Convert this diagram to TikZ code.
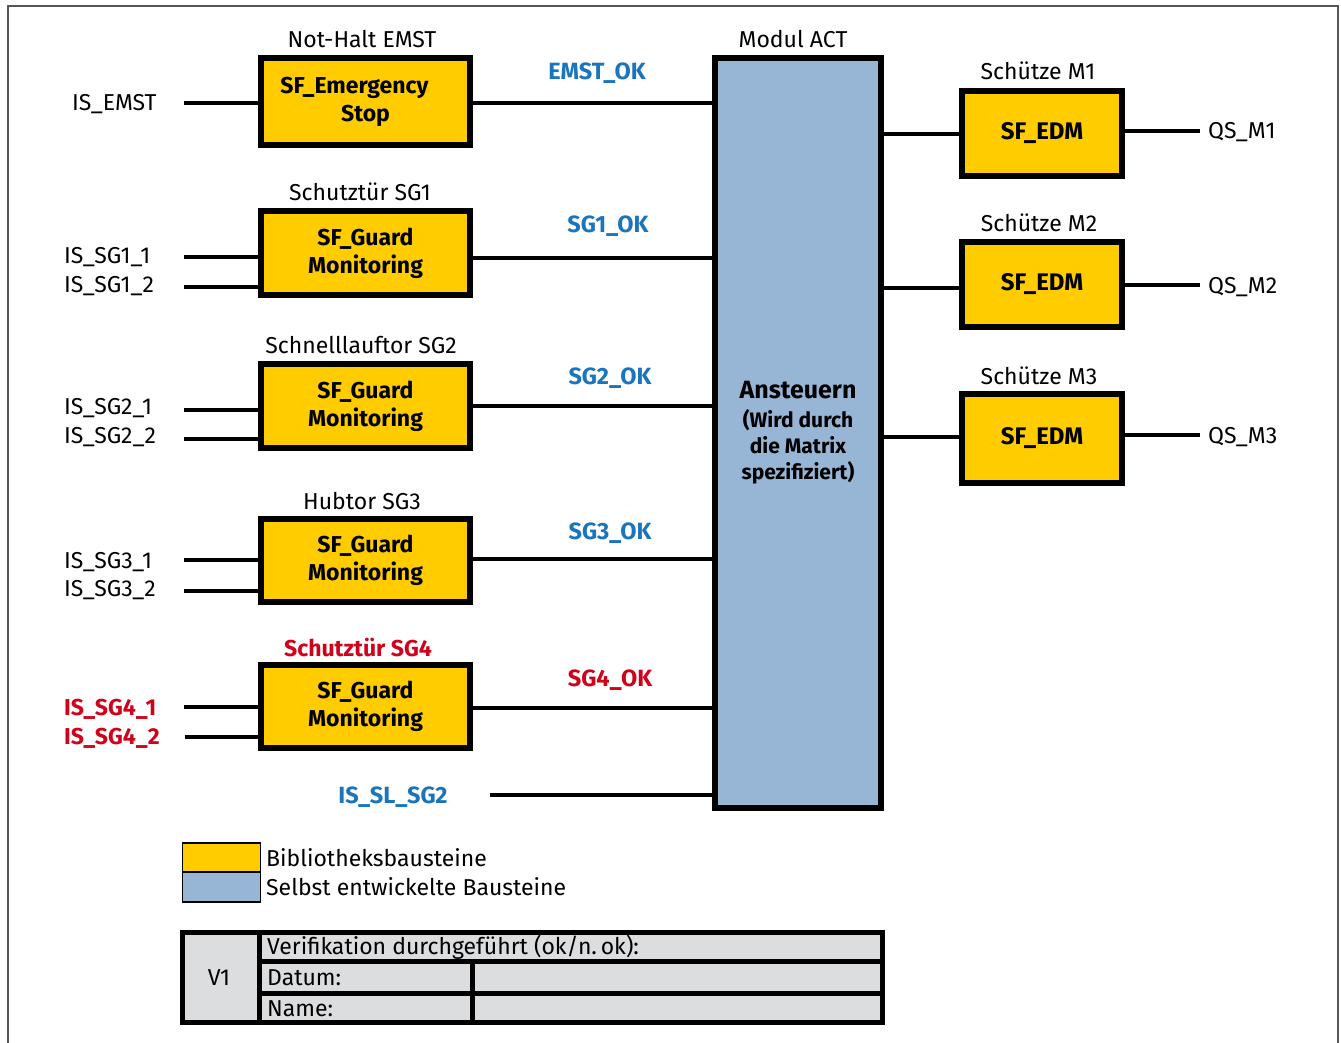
\documentclass[tikz,border=0pt]{standalone}
\usepackage{fontspec}
\setmainfont{Fira Sans}
\definecolor{libyellow}{HTML}{FFCC00}
\definecolor{ownblue}{HTML}{97B5D5}
\definecolor{sigblue}{HTML}{1A75BC}
\definecolor{sigred}{HTML}{D0021B}
\definecolor{cellgray}{HTML}{DCDDDF}
\definecolor{framegray}{HTML}{555555}

\begin{document}
\begin{tikzpicture}[x=1pt,y=-1pt,
  fb/.style={draw=black, line width=6pt, fill=libyellow, minimum width=209pt,
    minimum height=84pt, inner sep=0pt, align=center,
    font=\fontsize{23}{28}\selectfont\bfseries},
  edm/.style={fb, minimum width=160pt, minimum height=85pt,
    font=\fontsize{24}{28}\selectfont\bfseries},
  act/.style={draw=black, line width=6pt, fill=ownblue, minimum width=166pt,
    minimum height=750pt, inner sep=0pt, align=center},
  wire/.style={line width=4pt},
  txt/.style={inner sep=0pt, anchor=base, font=\fontsize{23}{26}\selectfont},
  txtw/.style={txt, anchor=base west},
  sig/.style={txt, font=\fontsize{23.5}{26}\selectfont\bfseries, text=sigblue},
  sigr/.style={sig, text=sigred},
  redb/.style={font=\fontsize{23}{26}\selectfont\bfseries, text=sigred},
  cellline/.style={line width=5pt}
]
\useasboundingbox (0,0) rectangle (1341,1043);
\fill[white] (0,0) rectangle (1341,1043);

% outer frame
\draw[framegray, line width=1.5pt] (8,1043) -- (8,6) -- (1338,6) -- (1338,1043);

% central module
\node[act, font=\fontsize{21}{26}\selectfont\bfseries] (act) at (798,433) {%
  {\fontsize{25}{30}\selectfont Ansteuern}\\[3pt]
  (Wird durch\\ die Matrix\\ spezifiziert)};
\node[txt] (actT) at (793,48) {Modul ACT};

% safety function blocks
\node[fb, minimum height=87pt] (emst) at (365.5,101.5) {SF\_Emergency\hspace*{22pt}\\Stop};
\node[fb] (sg1) at (365.5,253) {SF\_Guard\\Monitoring};
\node[fb] (sg2) at (365.5,406) {SF\_Guard\\Monitoring};
\node[fb, minimum height=83pt] (sg3) at (365.5,560.5) {SF\_Guard\\Monitoring};
\node[fb, minimum height=83pt] (sg4) at (365.5,706.5) {SF\_Guard\\Monitoring};

\node[txt] (emstT) at (362,48) {Not-Halt EMST};
\node[txt] (sg1T) at (360,201) {Schutztür SG1};
\node[txt] (sg2T) at (361,353) {Schnelllauftor SG2};
\node[txt] (sg3T) at (362,509) {Hubtor SG3};
\node[txt, redb] (sg4T) at (358,656) {Schutztür SG4};

% contactor blocks
\node[edm] (m1) at (1042,133.5) {SF\_EDM};
\node[edm] (m2) at (1042,284.5) {SF\_EDM};
\node[edm, minimum height=89pt] (m3) at (1042,438.5) {SF\_EDM};
\node[txt] (m1T) at (1038,80) {Schütze M1};
\node[txt] (m2T) at (1039,232) {Schütze M2};
\node[txt] (m3T) at (1039,384) {Schütze M3};

% input labels and wire ends
\node[txtw] (lemst) at (72,111) {IS\_EMST};
\node[txtw] (l11) at (64,263) {IS\_SG1\_1};
\node[txtw] (l12) at (64,292) {IS\_SG1\_2};
\node[txtw] (l21) at (64,414) {IS\_SG2\_1};
\node[txtw] (l22) at (64,443) {IS\_SG2\_2};
\node[txtw] (l31) at (64,568) {IS\_SG3\_1};
\node[txtw] (l32) at (64,596) {IS\_SG3\_2};
\node[txtw, redb] (l41) at (64,715) {IS\_SG4\_1};
\node[txtw, redb] (l42) at (64,744) {IS\_SG4\_2};
\node[sig] (lsl) at (393,803) {IS\_SL\_SG2};

\coordinate (iemst) at (184,103);
\coordinate (i11) at (184,257);
\coordinate (i12) at (184,287);
\coordinate (i21) at (184,410);
\coordinate (i22) at (184,439);
\coordinate (i31) at (184,560);
\coordinate (i32) at (184,591);
\coordinate (i41) at (184,707);
\coordinate (i42) at (185,737);
\coordinate (isl) at (490,795);

\draw[wire] (iemst) -- (emst.west |- iemst);
\draw[wire] (i11) -- (sg1.west |- i11);
\draw[wire] (i12) -- (sg1.west |- i12);
\draw[wire] (i21) -- (sg2.west |- i21);
\draw[wire] (i22) -- (sg2.west |- i22);
\draw[wire] (i31) -- (sg3.west |- i31);
\draw[wire] (i32) -- (sg3.west |- i32);
\draw[wire] (i41) -- (sg4.west |- i41);
\draw[wire] (i42) -- (sg4.west |- i42);
\draw[wire] (isl) -- (act.west |- isl);

% enable signals into the module
\draw[wire] (emst.east |- 0,103) -- (act.west |- 0,103);
\draw[wire] (sg1.east |- 0,258) -- (act.west |- 0,258);
\draw[wire] (sg2.east |- 0,406) -- (act.west |- 0,406);
\draw[wire] (sg3.east |- 0,559) -- (act.west |- 0,559);
\draw[wire] (sg4.east |- 0,708) -- (act.west |- 0,708);

\node[sig] (okemst) at (597,80) {EMST\_OK};
\node[sig] (ok1) at (608,233) {SG1\_OK};
\node[sig] (ok2) at (610,384) {SG2\_OK};
\node[sig] (ok3) at (610,539) {SG3\_OK};
\node[sigr] (ok4) at (610,686) {SG4\_OK};

% module outputs to the contactors
\draw[wire] (act.east |- 0,134) -- (m1.west |- 0,134);
\draw[wire] (act.east |- 0,288) -- (m2.west |- 0,288);
\draw[wire] (act.east |- 0,437) -- (m3.west |- 0,437);

\coordinate (q1) at (1200,131);
\coordinate (q2) at (1200,285);
\coordinate (q3) at (1200,435);
\draw[wire] (m1.east |- q1) -- (q1);
\draw[wire] (m2.east |- q2) -- (q2);
\draw[wire] (m3.east |- q3) -- (q3);
\node[txtw] (qs1) at (1208,139) {QS\_M1};
\node[txtw] (qs2) at (1208,293) {QS\_M2};
\node[txtw] (qs3) at (1208,443) {QS\_M3};

% legend
\node[draw=black, line width=1.5pt, fill=libyellow, minimum width=78pt, minimum height=29pt, inner sep=0pt] (legy) at (221.5,857.5) {};
\node[draw=black, line width=1.5pt, fill=ownblue, minimum width=78pt, minimum height=30pt, inner sep=0pt] (legb) at (221.5,887) {};
\node[txtw] (legyT) at (266,866) {Bibliotheksbausteine};
\node[txtw] (legbT) at (266,895) {Selbst entwickelte Bausteine};

% verification table
\fill[cellgray] (180,930) rectangle (885,1025);
\draw[cellline] (259,930) -- (259,1025);
\draw[cellline] (259,961) -- (885,961);
\draw[cellline] (259,993) -- (885,993);
\draw[cellline] (472,961) -- (472,1025);
\draw[cellline] (182.5,932.5) rectangle (882.5,1022.5);
\node[txt] (v1) at (219,985) {V1};
\node[txtw] (verif) at (267,954) {Verifikation durchgeführt (ok/n.\,ok):};
\node[txtw] (datum) at (267,985) {Datum:};
\node[txtw] (name) at (267,1016) {Name:};
\end{tikzpicture}
\end{document}
